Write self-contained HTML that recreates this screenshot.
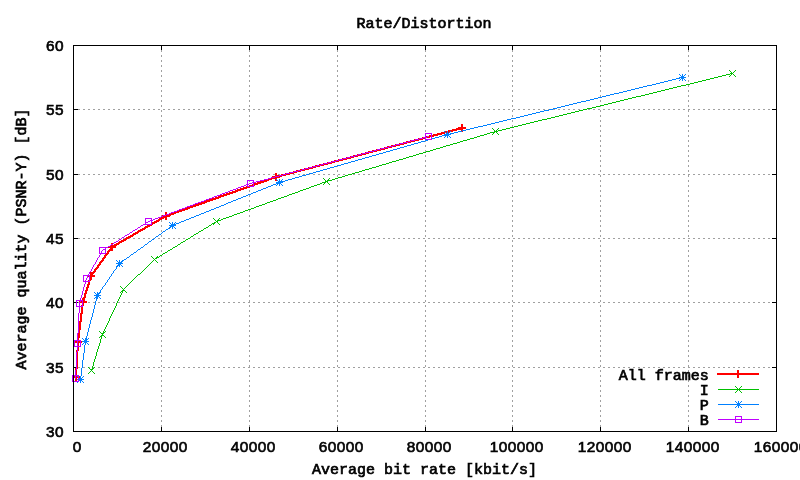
<!DOCTYPE html>
<html><head><meta charset="utf-8"><title>Rate/Distortion</title>
<style>html,body{margin:0;padding:0;background:#fff;overflow:hidden}svg{display:block}text{font-family:"Liberation Mono","DejaVu Sans Mono",monospace;font-size:15px;font-weight:normal;fill:#000;stroke:#000;stroke-width:0.7px}</style>
</head><body>
<svg width="800" height="480" viewBox="0 0 800 480">
<rect width="800" height="480" fill="#ffffff"/>
<g stroke="#a0a0a0" stroke-width="1" stroke-dasharray="2 3" shape-rendering="crispEdges" fill="none">
<line x1="161.5" y1="45" x2="161.5" y2="431"/>
<line x1="249.5" y1="45" x2="249.5" y2="431"/>
<line x1="337.5" y1="45" x2="337.5" y2="431"/>
<line x1="425.5" y1="45" x2="425.5" y2="431"/>
<line x1="512.5" y1="45" x2="512.5" y2="431"/>
<line x1="600.5" y1="45" x2="600.5" y2="431"/>
<line x1="688.5" y1="45" x2="688.5" y2="431"/>
<line x1="73" y1="367.5" x2="776" y2="367.5"/>
<line x1="73" y1="302.5" x2="776" y2="302.5"/>
<line x1="73" y1="238.5" x2="776" y2="238.5"/>
<line x1="73" y1="174.5" x2="776" y2="174.5"/>
<line x1="73" y1="109.5" x2="776" y2="109.5"/>
</g>
<g stroke="#000" stroke-width="1" shape-rendering="crispEdges" fill="none">
<line x1="73.5" y1="427" x2="73.5" y2="432"/>
<line x1="73.5" y1="45" x2="73.5" y2="50"/>
<line x1="161.5" y1="427" x2="161.5" y2="432"/>
<line x1="161.5" y1="45" x2="161.5" y2="50"/>
<line x1="249.5" y1="427" x2="249.5" y2="432"/>
<line x1="249.5" y1="45" x2="249.5" y2="50"/>
<line x1="337.5" y1="427" x2="337.5" y2="432"/>
<line x1="337.5" y1="45" x2="337.5" y2="50"/>
<line x1="425.5" y1="427" x2="425.5" y2="432"/>
<line x1="425.5" y1="45" x2="425.5" y2="50"/>
<line x1="512.5" y1="427" x2="512.5" y2="432"/>
<line x1="512.5" y1="45" x2="512.5" y2="50"/>
<line x1="600.5" y1="427" x2="600.5" y2="432"/>
<line x1="600.5" y1="45" x2="600.5" y2="50"/>
<line x1="688.5" y1="427" x2="688.5" y2="432"/>
<line x1="688.5" y1="45" x2="688.5" y2="50"/>
<line x1="776.5" y1="427" x2="776.5" y2="432"/>
<line x1="776.5" y1="45" x2="776.5" y2="50"/>
<line x1="73" y1="431.5" x2="78" y2="431.5"/>
<line x1="772" y1="431.5" x2="777" y2="431.5"/>
<line x1="73" y1="367.5" x2="78" y2="367.5"/>
<line x1="772" y1="367.5" x2="777" y2="367.5"/>
<line x1="73" y1="302.5" x2="78" y2="302.5"/>
<line x1="772" y1="302.5" x2="777" y2="302.5"/>
<line x1="73" y1="238.5" x2="78" y2="238.5"/>
<line x1="772" y1="238.5" x2="777" y2="238.5"/>
<line x1="73" y1="174.5" x2="78" y2="174.5"/>
<line x1="772" y1="174.5" x2="777" y2="174.5"/>
<line x1="73" y1="109.5" x2="78" y2="109.5"/>
<line x1="772" y1="109.5" x2="777" y2="109.5"/>
<line x1="73" y1="45.5" x2="78" y2="45.5"/>
<line x1="772" y1="45.5" x2="777" y2="45.5"/>
</g>
<g shape-rendering="crispEdges" stroke="none">
<path fill="#ff0000" d="M461 124h2v1h-2zM461 125h2v1h-2zM461 126h2v1h-2zM458 127h8v1h-8zM456 128h10v1h-10zM452 129h11v1h-11zM448 130h9v1h-9zM461 130h2v1h-2zM444 131h9v1h-9zM461 131h2v1h-2zM441 132h8v1h-8zM437 133h8v1h-8zM433 134h9v1h-9zM429 135h9v1h-9zM425 136h9v1h-9zM422 137h8v1h-8zM418 138h8v1h-8zM414 139h9v1h-9zM410 140h9v1h-9zM406 141h9v1h-9zM403 142h8v1h-8zM399 143h8v1h-8zM395 144h9v1h-9zM391 145h9v1h-9zM387 146h9v1h-9zM384 147h8v1h-8zM380 148h8v1h-8zM376 149h9v1h-9zM372 150h9v1h-9zM368 151h9v1h-9zM365 152h8v1h-8zM361 153h8v1h-8zM357 154h9v1h-9zM353 155h9v1h-9zM350 156h8v1h-8zM346 157h8v1h-8zM342 158h9v1h-9zM338 159h9v1h-9zM334 160h9v1h-9zM331 161h8v1h-8zM327 162h8v1h-8zM323 163h9v1h-9zM319 164h9v1h-9zM315 165h9v1h-9zM312 166h8v1h-8zM308 167h8v1h-8zM304 168h9v1h-9zM300 169h9v1h-9zM296 170h9v1h-9zM293 171h8v1h-8zM289 172h8v1h-8zM275 173h2v1h-2zM285 173h9v1h-9zM275 174h2v1h-2zM281 174h9v1h-9zM275 175h11v1h-11zM272 176h10v1h-10zM271 177h9v1h-9zM268 178h9v1h-9zM266 179h6v1h-6zM275 179h2v1h-2zM263 180h6v1h-6zM275 180h2v1h-2zM260 181h7v1h-7zM257 182h7v1h-7zM254 183h7v1h-7zM252 184h6v1h-6zM249 185h6v1h-6zM246 186h7v1h-7zM243 187h7v1h-7zM240 188h7v1h-7zM237 189h7v1h-7zM235 190h6v1h-6zM232 191h6v1h-6zM229 192h7v1h-7zM226 193h7v1h-7zM223 194h7v1h-7zM220 195h7v1h-7zM218 196h6v1h-6zM215 197h6v1h-6zM212 198h7v1h-7zM209 199h7v1h-7zM206 200h7v1h-7zM204 201h6v1h-6zM201 202h6v1h-6zM198 203h7v1h-7zM195 204h7v1h-7zM192 205h7v1h-7zM189 206h7v1h-7zM187 207h6v1h-6zM184 208h6v1h-6zM181 209h7v1h-7zM178 210h7v1h-7zM175 211h7v1h-7zM165 212h2v1h-2zM173 212h6v1h-6zM165 213h2v1h-2zM170 213h6v1h-6zM165 214h9v1h-9zM162 215h9v1h-9zM162 216h8v1h-8zM161 217h6v1h-6zM159 218h5v1h-5zM165 218h2v1h-2zM158 219h4v1h-4zM165 219h2v1h-2zM156 220h4v1h-4zM154 221h5v1h-5zM152 222h5v1h-5zM151 223h4v1h-4zM149 224h4v1h-4zM147 225h5v1h-5zM145 226h5v1h-5zM144 227h4v1h-4zM142 228h4v1h-4zM140 229h5v1h-5zM138 230h5v1h-5zM137 231h4v1h-4zM135 232h4v1h-4zM133 233h5v1h-5zM132 234h4v1h-4zM130 235h4v1h-4zM128 236h5v1h-5zM126 237h5v1h-5zM125 238h4v1h-4zM123 239h4v1h-4zM121 240h5v1h-5zM119 241h5v1h-5zM118 242h4v1h-4zM111 243h2v1h-2zM116 243h4v1h-4zM111 244h2v1h-2zM114 244h5v1h-5zM111 245h6v1h-6zM108 246h8v1h-8zM108 247h8v1h-8zM110 248h3v1h-3zM109 249h4v1h-4zM108 250h5v1h-5zM107 251h3v1h-3zM107 252h2v1h-2zM106 253h3v1h-3zM105 254h3v1h-3zM104 255h3v1h-3zM104 256h2v1h-2zM103 257h3v1h-3zM102 258h3v1h-3zM102 259h2v1h-2zM101 260h3v1h-3zM100 261h3v1h-3zM99 262h3v1h-3zM99 263h2v1h-2zM98 264h3v1h-3zM97 265h3v1h-3zM97 266h2v1h-2zM96 267h3v1h-3zM95 268h3v1h-3zM94 269h3v1h-3zM94 270h2v1h-2zM93 271h3v1h-3zM90 272h5v1h-5zM90 273h4v1h-4zM90 274h3v1h-3zM87 275h8v1h-8zM87 276h8v1h-8zM89 277h3v1h-3zM89 278h3v1h-3zM89 279h3v1h-3zM88 280h3v1h-3zM88 281h2v1h-2zM88 282h2v1h-2zM88 283h2v1h-2zM87 284h3v1h-3zM87 285h2v1h-2zM87 286h2v1h-2zM86 287h3v1h-3zM86 288h2v1h-2zM86 289h2v1h-2zM85 290h3v1h-3zM85 291h2v1h-2zM85 292h2v1h-2zM84 293h3v1h-3zM84 294h2v1h-2zM84 295h2v1h-2zM84 296h2v1h-2zM83 297h3v1h-3zM82 298h3v1h-3zM82 299h3v1h-3zM82 300h3v1h-3zM79 301h8v1h-8zM79 302h8v1h-8zM82 303h2v1h-2zM82 304h2v1h-2zM81 305h3v1h-3zM81 306h2v1h-2zM81 307h2v1h-2zM81 308h2v1h-2zM81 309h2v1h-2zM81 310h2v1h-2zM81 311h2v1h-2zM81 312h2v1h-2zM80 313h3v1h-3zM80 314h2v1h-2zM80 315h2v1h-2zM80 316h2v1h-2zM80 317h2v1h-2zM80 318h2v1h-2zM80 319h2v1h-2zM80 320h2v1h-2zM79 321h3v1h-3zM79 322h2v1h-2zM79 323h2v1h-2zM79 324h2v1h-2zM79 325h2v1h-2zM79 326h2v1h-2zM79 327h2v1h-2zM79 328h2v1h-2zM78 329h3v1h-3zM78 330h2v1h-2zM78 331h2v1h-2zM78 332h2v1h-2zM78 333h2v1h-2zM78 334h2v1h-2zM78 335h2v1h-2zM78 336h2v1h-2zM77 337h3v1h-3zM77 338h2v1h-2zM77 339h2v1h-2zM77 340h2v1h-2zM74 341h8v1h-8zM74 342h8v1h-8zM77 343h2v1h-2zM77 344h2v1h-2zM77 345h2v1h-2zM77 346h2v1h-2zM77 347h2v1h-2zM77 348h2v1h-2zM77 349h2v1h-2zM76 350h3v1h-3zM76 351h2v1h-2zM76 352h2v1h-2zM76 353h2v1h-2zM76 354h2v1h-2zM76 355h2v1h-2zM76 356h2v1h-2zM76 357h2v1h-2zM76 358h2v1h-2zM76 359h2v1h-2zM76 360h2v1h-2zM76 361h2v1h-2zM76 362h2v1h-2zM76 363h2v1h-2zM76 364h2v1h-2zM76 365h2v1h-2zM76 366h2v1h-2zM76 367h2v1h-2zM75 368h3v1h-3zM75 369h2v1h-2zM75 370h2v1h-2zM737 370h2v1h-2zM75 371h2v1h-2zM737 371h2v1h-2zM75 372h2v1h-2zM737 372h2v1h-2zM75 373h2v1h-2zM717 373h42v1h-42zM75 374h2v1h-2zM717 374h42v1h-42zM75 375h2v1h-2zM737 375h2v1h-2zM72 376h8v1h-8zM737 376h2v1h-2zM72 377h8v1h-8zM737 377h2v1h-2zM75 378h2v1h-2zM75 379h2v1h-2zM75 380h2v1h-2z"/>
<path fill="#00c000" d="M730 73h3v1h-3zM726 74h4v1h-4zM722 75h4v1h-4zM718 76h4v1h-4zM714 77h4v1h-4zM710 78h4v1h-4zM706 79h4v1h-4zM702 80h4v1h-4zM698 81h4v1h-4zM694 82h4v1h-4zM690 83h4v1h-4zM686 84h4v1h-4zM681 85h5v1h-5zM677 86h4v1h-4zM673 87h4v1h-4zM669 88h4v1h-4zM665 89h4v1h-4zM661 90h4v1h-4zM657 91h4v1h-4zM653 92h4v1h-4zM649 93h4v1h-4zM645 94h4v1h-4zM641 95h4v1h-4zM636 96h5v1h-5zM632 97h4v1h-4zM628 98h4v1h-4zM624 99h4v1h-4zM620 100h4v1h-4zM616 101h4v1h-4zM612 102h4v1h-4zM608 103h4v1h-4zM604 104h4v1h-4zM600 105h4v1h-4zM596 106h4v1h-4zM592 107h4v1h-4zM587 108h5v1h-5zM583 109h4v1h-4zM579 110h4v1h-4zM575 111h4v1h-4zM571 112h4v1h-4zM567 113h4v1h-4zM563 114h4v1h-4zM559 115h4v1h-4zM555 116h4v1h-4zM551 117h4v1h-4zM547 118h4v1h-4zM542 119h5v1h-5zM538 120h4v1h-4zM534 121h4v1h-4zM530 122h4v1h-4zM526 123h4v1h-4zM522 124h4v1h-4zM518 125h4v1h-4zM514 126h4v1h-4zM510 127h4v1h-4zM506 128h4v1h-4zM502 129h4v1h-4zM498 130h4v1h-4zM494 131h4v1h-4zM490 132h5v1h-5zM487 133h3v1h-3zM484 134h3v1h-3zM480 135h4v1h-4zM477 136h3v1h-3zM474 137h3v1h-3zM470 138h4v1h-4zM467 139h3v1h-3zM463 140h4v1h-4zM460 141h3v1h-3zM457 142h3v1h-3zM453 143h4v1h-4zM450 144h3v1h-3zM446 145h4v1h-4zM443 146h3v1h-3zM440 147h3v1h-3zM436 148h4v1h-4zM433 149h3v1h-3zM430 150h3v1h-3zM426 151h4v1h-4zM423 152h3v1h-3zM419 153h4v1h-4zM416 154h3v1h-3zM413 155h3v1h-3zM409 156h4v1h-4zM406 157h3v1h-3zM403 158h3v1h-3zM399 159h4v1h-4zM396 160h3v1h-3zM392 161h4v1h-4zM389 162h3v1h-3zM386 163h3v1h-3zM382 164h4v1h-4zM379 165h3v1h-3zM376 166h3v1h-3zM372 167h4v1h-4zM369 168h3v1h-3zM365 169h4v1h-4zM362 170h3v1h-3zM359 171h3v1h-3zM355 172h4v1h-4zM352 173h3v1h-3zM348 174h4v1h-4zM345 175h3v1h-3zM342 176h3v1h-3zM338 177h4v1h-4zM335 178h3v1h-3zM332 179h3v1h-3zM327 180h5v1h-5zM325 181h3v1h-3zM322 182h4v1h-4zM320 183h2v1h-2zM317 184h3v1h-3zM314 185h3v1h-3zM311 186h3v1h-3zM309 187h2v1h-2zM306 188h3v1h-3zM303 189h3v1h-3zM300 190h3v1h-3zM298 191h2v1h-2zM295 192h3v1h-3zM292 193h3v1h-3zM289 194h3v1h-3zM287 195h2v1h-2zM284 196h3v1h-3zM281 197h3v1h-3zM278 198h3v1h-3zM276 199h2v1h-2zM273 200h3v1h-3zM270 201h3v1h-3zM267 202h3v1h-3zM265 203h2v1h-2zM262 204h3v1h-3zM259 205h3v1h-3zM256 206h3v1h-3zM254 207h2v1h-2zM251 208h3v1h-3zM248 209h3v1h-3zM245 210h3v1h-3zM243 211h2v1h-2zM240 212h3v1h-3zM237 213h3v1h-3zM234 214h3v1h-3zM232 215h2v1h-2zM229 216h3v1h-3zM226 217h3v1h-3zM223 218h3v1h-3zM221 219h2v1h-2zM217 220h4v1h-4zM216 221h2v1h-2zM214 222h2v1h-2zM212 223h3v1h-3zM209 225h2v1h-2zM206 227h2v1h-2zM204 228h2v1h-2zM201 230h2v1h-2zM199 231h2v1h-2zM196 233h2v1h-2zM194 234h2v1h-2zM191 236h2v1h-2zM188 238h2v1h-2zM186 239h2v1h-2zM183 241h2v1h-2zM181 242h2v1h-2zM178 244h2v1h-2zM175 246h2v1h-2zM173 247h2v1h-2zM170 249h2v1h-2zM168 250h2v1h-2zM165 252h2v1h-2zM163 253h2v1h-2zM160 255h2v1h-2zM156 257h3v1h-3zM155 258h2v1h-2zM138 274h2v1h-2zM122 290h3v1h-3zM121 291h2v1h-2zM103 332h2v1h-2zM101 333h3v1h-3zM101 335h3v1h-3zM100 336h2v1h-2zM92 368h2v1h-2zM90 369h3v1h-3zM718 389h41v1h-41zM88 367h1v1h-1zM88 373h1v1h-1zM89 368h1v1h-1zM89 372h1v1h-1zM90 371h1v1h-1zM91 370h1v1h-1zM92 366h1v2h-1zM92 371h1v1h-1zM93 362h1v4h-1zM93 372h1v1h-1zM94 359h1v3h-1zM94 367h1v1h-1zM94 373h1v1h-1zM95 356h1v3h-1zM96 352h1v4h-1zM97 349h1v3h-1zM98 346h1v3h-1zM99 331h1v1h-1zM99 337h1v1h-1zM99 343h1v3h-1zM100 332h1v1h-1zM100 339h1v4h-1zM101 337h1v2h-1zM102 334h1v1h-1zM103 331h1v1h-1zM104 329h1v2h-1zM104 336h1v1h-1zM105 327h1v2h-1zM105 331h1v1h-1zM105 337h1v1h-1zM106 325h1v2h-1zM107 323h1v2h-1zM108 321h1v2h-1zM109 318h1v3h-1zM110 316h1v2h-1zM111 314h1v2h-1zM112 312h1v2h-1zM113 310h1v2h-1zM114 308h1v2h-1zM115 306h1v2h-1zM116 303h1v3h-1zM117 301h1v2h-1zM118 299h1v2h-1zM119 297h1v2h-1zM120 286h1v1h-1zM120 292h1v1h-1zM120 295h1v2h-1zM121 287h1v1h-1zM121 293h1v2h-1zM122 288h1v1h-1zM122 292h1v1h-1zM123 289h1v1h-1zM124 288h1v1h-1zM125 287h1v1h-1zM125 291h1v1h-1zM126 286h1v1h-1zM126 292h1v1h-1zM127 285h1v1h-1zM128 284h1v1h-1zM129 283h1v1h-1zM130 282h1v1h-1zM131 281h1v1h-1zM132 280h1v1h-1zM133 279h1v1h-1zM134 278h1v1h-1zM135 277h1v1h-1zM136 276h1v1h-1zM137 275h1v1h-1zM140 273h1v1h-1zM141 272h1v1h-1zM142 271h1v1h-1zM143 270h1v1h-1zM144 269h1v1h-1zM145 268h1v1h-1zM146 267h1v1h-1zM147 266h1v1h-1zM148 265h1v1h-1zM149 264h1v1h-1zM150 263h1v1h-1zM151 256h1v1h-1zM151 262h1v1h-1zM152 257h1v1h-1zM152 261h1v1h-1zM153 258h1v1h-1zM153 260h1v1h-1zM154 259h1v1h-1zM155 260h1v1h-1zM156 261h1v1h-1zM157 256h1v1h-1zM157 262h1v1h-1zM159 256h1v1h-1zM162 254h1v1h-1zM167 251h1v1h-1zM172 248h1v1h-1zM177 245h1v1h-1zM180 243h1v1h-1zM185 240h1v1h-1zM190 237h1v1h-1zM193 235h1v1h-1zM198 232h1v1h-1zM203 229h1v1h-1zM208 226h1v1h-1zM211 224h1v1h-1zM213 218h1v1h-1zM213 224h1v1h-1zM214 219h1v1h-1zM215 220h1v1h-1zM217 222h1v1h-1zM218 219h1v1h-1zM218 223h1v1h-1zM219 218h1v1h-1zM219 224h1v1h-1zM323 178h1v1h-1zM323 184h1v1h-1zM324 179h1v1h-1zM324 183h1v1h-1zM325 180h1v1h-1zM327 182h1v1h-1zM328 179h1v1h-1zM328 183h1v1h-1zM329 178h1v1h-1zM329 184h1v1h-1zM492 128h1v1h-1zM492 134h1v1h-1zM493 129h1v1h-1zM493 133h1v1h-1zM494 130h1v1h-1zM496 130h1v1h-1zM496 132h1v1h-1zM497 129h1v1h-1zM497 133h1v1h-1zM498 128h1v1h-1zM498 134h1v1h-1zM729 70h1v1h-1zM729 76h1v1h-1zM730 71h1v1h-1zM730 75h1v1h-1zM731 72h1v1h-1zM731 74h1v1h-1zM733 72h1v1h-1zM733 74h1v1h-1zM734 71h1v1h-1zM734 75h1v1h-1zM735 70h1v1h-1zM735 76h1v1h-1zM735 386h1v1h-1zM735 392h1v1h-1zM736 387h1v1h-1zM736 391h1v1h-1zM737 388h1v1h-1zM737 390h1v1h-1zM739 388h1v1h-1zM739 390h1v1h-1zM740 387h1v1h-1zM740 391h1v1h-1zM741 386h1v1h-1zM741 392h1v1h-1z"/>
<path fill="#0080ff" d="M681 76h3v1h-3zM679 77h7v1h-7zM676 78h4v1h-4zM681 78h3v1h-3zM672 79h4v1h-4zM668 80h4v1h-4zM664 81h4v1h-4zM660 82h4v1h-4zM656 83h4v1h-4zM652 84h4v1h-4zM647 85h5v1h-5zM643 86h4v1h-4zM639 87h4v1h-4zM635 88h4v1h-4zM631 89h4v1h-4zM627 90h4v1h-4zM623 91h4v1h-4zM619 92h4v1h-4zM614 93h5v1h-5zM610 94h4v1h-4zM606 95h4v1h-4zM602 96h4v1h-4zM598 97h4v1h-4zM594 98h4v1h-4zM590 99h4v1h-4zM586 100h4v1h-4zM581 101h5v1h-5zM577 102h4v1h-4zM573 103h4v1h-4zM569 104h4v1h-4zM565 105h4v1h-4zM561 106h4v1h-4zM557 107h4v1h-4zM553 108h4v1h-4zM549 109h4v1h-4zM544 110h5v1h-5zM540 111h4v1h-4zM536 112h4v1h-4zM532 113h4v1h-4zM528 114h4v1h-4zM524 115h4v1h-4zM520 116h4v1h-4zM516 117h4v1h-4zM511 118h5v1h-5zM507 119h4v1h-4zM503 120h4v1h-4zM499 121h4v1h-4zM495 122h4v1h-4zM491 123h4v1h-4zM487 124h4v1h-4zM483 125h4v1h-4zM478 126h5v1h-5zM474 127h4v1h-4zM470 128h4v1h-4zM466 129h4v1h-4zM462 130h4v1h-4zM458 131h4v1h-4zM454 132h4v1h-4zM446 133h3v1h-3zM450 133h4v1h-4zM444 134h7v1h-7zM442 135h7v1h-7zM439 136h3v1h-3zM435 137h4v1h-4zM432 138h3v1h-3zM428 139h4v1h-4zM425 140h3v1h-3zM421 141h4v1h-4zM418 142h3v1h-3zM414 143h4v1h-4zM411 144h3v1h-3zM407 145h4v1h-4zM404 146h3v1h-3zM400 147h4v1h-4zM397 148h3v1h-3zM393 149h4v1h-4zM390 150h3v1h-3zM386 151h4v1h-4zM383 152h3v1h-3zM379 153h4v1h-4zM376 154h3v1h-3zM372 155h4v1h-4zM369 156h3v1h-3zM365 157h4v1h-4zM362 158h3v1h-3zM358 159h4v1h-4zM355 160h3v1h-3zM351 161h4v1h-4zM348 162h3v1h-3zM344 163h4v1h-4zM341 164h3v1h-3zM337 165h4v1h-4zM334 166h3v1h-3zM330 167h4v1h-4zM327 168h3v1h-3zM323 169h4v1h-4zM320 170h3v1h-3zM316 171h4v1h-4zM313 172h3v1h-3zM309 173h4v1h-4zM306 174h3v1h-3zM302 175h4v1h-4zM299 176h3v1h-3zM295 177h4v1h-4zM292 178h3v1h-3zM288 179h4v1h-4zM285 180h3v1h-3zM278 181h7v1h-7zM276 182h7v1h-7zM276 183h5v1h-5zM273 184h3v1h-3zM271 185h2v1h-2zM268 186h3v1h-3zM266 187h2v1h-2zM263 188h3v1h-3zM261 189h2v1h-2zM258 190h3v1h-3zM256 191h2v1h-2zM253 192h3v1h-3zM251 193h2v1h-2zM248 194h3v1h-3zM246 195h2v1h-2zM243 196h3v1h-3zM241 197h2v1h-2zM238 198h3v1h-3zM236 199h2v1h-2zM233 200h3v1h-3zM231 201h2v1h-2zM228 202h3v1h-3zM226 203h2v1h-2zM224 204h2v1h-2zM221 205h3v1h-3zM219 206h2v1h-2zM216 207h3v1h-3zM214 208h2v1h-2zM211 209h3v1h-3zM209 210h2v1h-2zM206 211h3v1h-3zM204 212h2v1h-2zM201 213h3v1h-3zM199 214h2v1h-2zM196 215h3v1h-3zM194 216h2v1h-2zM191 217h3v1h-3zM189 218h2v1h-2zM186 219h3v1h-3zM184 220h2v1h-2zM181 221h3v1h-3zM179 222h2v1h-2zM176 223h3v1h-3zM171 224h5v1h-5zM169 225h7v1h-7zM170 226h4v1h-4zM169 227h2v1h-2zM168 228h2v1h-2zM166 229h2v1h-2zM163 231h2v1h-2zM159 234h2v1h-2zM156 236h2v1h-2zM152 239h2v1h-2zM149 241h2v1h-2zM145 244h2v1h-2zM141 247h2v1h-2zM138 249h2v1h-2zM134 252h2v1h-2zM131 254h2v1h-2zM127 257h2v1h-2zM124 259h2v1h-2zM122 260h2v1h-2zM121 261h2v1h-2zM118 262h4v1h-4zM116 263h7v1h-7zM118 264h3v1h-3zM117 265h3v1h-3zM116 266h2v1h-2zM99 292h2v1h-2zM97 293h3v1h-3zM96 294h3v1h-3zM94 295h7v1h-7zM96 296h3v1h-3zM95 297h3v1h-3zM96 298h2v1h-2zM85 338h2v1h-2zM85 339h3v1h-3zM84 340h3v1h-3zM82 341h7v1h-7zM84 342h3v1h-3zM79 378h3v1h-3zM77 379h7v1h-7zM79 380h3v1h-3zM737 403h3v1h-3zM718 404h41v1h-41zM737 405h3v1h-3zM77 376h1v1h-1zM77 382h1v1h-1zM78 377h1v1h-1zM78 381h1v1h-1zM80 376h1v2h-1zM80 381h1v2h-1zM81 368h1v8h-1zM82 338h1v1h-1zM82 344h1v1h-1zM82 360h1v8h-1zM82 377h1v1h-1zM82 381h1v1h-1zM83 339h1v1h-1zM83 343h1v1h-1zM83 353h1v7h-1zM83 376h1v1h-1zM83 382h1v1h-1zM84 345h1v8h-1zM85 343h1v2h-1zM86 336h1v2h-1zM87 332h1v4h-1zM87 343h1v1h-1zM88 328h1v4h-1zM88 338h1v1h-1zM88 344h1v1h-1zM89 324h1v4h-1zM90 320h1v4h-1zM91 317h1v3h-1zM92 313h1v4h-1zM93 309h1v4h-1zM94 292h1v1h-1zM94 298h1v1h-1zM94 305h1v4h-1zM95 293h1v1h-1zM95 301h1v4h-1zM96 299h1v2h-1zM97 292h1v1h-1zM99 297h1v1h-1zM100 290h1v2h-1zM100 298h1v1h-1zM101 289h1v1h-1zM102 287h1v2h-1zM103 286h1v1h-1zM104 285h1v1h-1zM105 283h1v2h-1zM106 282h1v1h-1zM107 280h1v2h-1zM108 279h1v1h-1zM109 277h1v2h-1zM110 276h1v1h-1zM111 274h1v2h-1zM112 273h1v1h-1zM113 271h1v2h-1zM114 270h1v1h-1zM115 269h1v1h-1zM116 260h1v1h-1zM116 267h1v2h-1zM117 261h1v1h-1zM119 260h1v2h-1zM119 266h1v1h-1zM121 265h1v1h-1zM122 266h1v1h-1zM126 258h1v1h-1zM129 256h1v1h-1zM130 255h1v1h-1zM133 253h1v1h-1zM136 251h1v1h-1zM137 250h1v1h-1zM140 248h1v1h-1zM143 246h1v1h-1zM144 245h1v1h-1zM147 243h1v1h-1zM148 242h1v1h-1zM151 240h1v1h-1zM154 238h1v1h-1zM155 237h1v1h-1zM158 235h1v1h-1zM161 233h1v1h-1zM162 232h1v1h-1zM165 230h1v1h-1zM169 222h1v1h-1zM170 223h1v1h-1zM172 222h1v2h-1zM172 227h1v2h-1zM174 223h1v1h-1zM174 227h1v1h-1zM175 222h1v1h-1zM175 228h1v1h-1zM276 179h1v1h-1zM276 185h1v1h-1zM277 180h1v1h-1zM277 184h1v1h-1zM279 179h1v2h-1zM279 184h1v2h-1zM281 180h1v1h-1zM281 184h1v1h-1zM282 179h1v1h-1zM282 185h1v1h-1zM444 131h1v1h-1zM444 137h1v1h-1zM445 132h1v1h-1zM445 136h1v1h-1zM447 131h1v2h-1zM447 136h1v2h-1zM449 132h1v1h-1zM449 136h1v1h-1zM450 131h1v1h-1zM450 137h1v1h-1zM679 74h1v1h-1zM679 80h1v1h-1zM680 75h1v1h-1zM680 79h1v1h-1zM682 74h1v2h-1zM682 79h1v2h-1zM684 75h1v1h-1zM684 79h1v1h-1zM685 74h1v1h-1zM685 80h1v1h-1zM735 401h1v1h-1zM735 407h1v1h-1zM736 402h1v1h-1zM736 406h1v1h-1zM738 401h1v2h-1zM738 406h1v2h-1zM740 402h1v1h-1zM740 406h1v1h-1zM741 401h1v1h-1zM741 407h1v1h-1z"/>
<path fill="#c000ff" d="M425 133h7v1h-7zM427 136h2v1h-2zM423 137h4v1h-4zM419 138h4v1h-4zM415 139h4v1h-4zM425 139h7v1h-7zM411 140h4v1h-4zM408 141h3v1h-3zM404 142h4v1h-4zM400 143h4v1h-4zM396 144h4v1h-4zM393 145h3v1h-3zM389 146h4v1h-4zM385 147h4v1h-4zM381 148h4v1h-4zM377 149h4v1h-4zM374 150h3v1h-3zM370 151h4v1h-4zM366 152h4v1h-4zM362 153h4v1h-4zM358 154h4v1h-4zM355 155h3v1h-3zM351 156h4v1h-4zM347 157h4v1h-4zM343 158h4v1h-4zM339 159h4v1h-4zM336 160h3v1h-3zM332 161h4v1h-4zM328 162h4v1h-4zM324 163h4v1h-4zM321 164h3v1h-3zM317 165h4v1h-4zM313 166h4v1h-4zM309 167h4v1h-4zM305 168h4v1h-4zM302 169h3v1h-3zM298 170h4v1h-4zM294 171h4v1h-4zM290 172h4v1h-4zM286 173h4v1h-4zM283 174h3v1h-3zM279 175h4v1h-4zM275 176h4v1h-4zM271 177h4v1h-4zM268 178h3v1h-3zM264 179h4v1h-4zM247 180h7v1h-7zM260 180h4v1h-4zM256 181h4v1h-4zM252 182h4v1h-4zM249 183h3v1h-3zM246 184h3v1h-3zM244 185h2v1h-2zM241 186h3v1h-3zM247 186h7v1h-7zM238 187h3v1h-3zM236 188h2v1h-2zM233 189h3v1h-3zM230 190h3v1h-3zM228 191h2v1h-2zM225 192h3v1h-3zM222 193h3v1h-3zM220 194h2v1h-2zM217 195h3v1h-3zM214 196h3v1h-3zM212 197h2v1h-2zM209 198h3v1h-3zM206 199h3v1h-3zM204 200h2v1h-2zM201 201h3v1h-3zM198 202h3v1h-3zM195 203h3v1h-3zM193 204h2v1h-2zM190 205h3v1h-3zM187 206h3v1h-3zM185 207h2v1h-2zM182 208h3v1h-3zM179 209h3v1h-3zM177 210h2v1h-2zM174 211h3v1h-3zM171 212h3v1h-3zM169 213h2v1h-2zM166 214h3v1h-3zM163 215h3v1h-3zM161 216h2v1h-2zM158 217h3v1h-3zM145 218h7v1h-7zM155 218h3v1h-3zM153 219h2v1h-2zM150 220h3v1h-3zM148 221h2v1h-2zM145 222h3v1h-3zM143 224h9v1h-9zM141 225h2v1h-2zM138 227h2v1h-2zM135 229h2v1h-2zM133 230h2v1h-2zM130 232h2v1h-2zM127 234h2v1h-2zM125 235h2v1h-2zM122 237h2v1h-2zM119 239h2v1h-2zM116 241h2v1h-2zM114 242h2v1h-2zM111 244h2v1h-2zM108 246h2v1h-2zM99 247h9v1h-9zM103 249h3v1h-3zM99 253h7v1h-7zM83 275h7v1h-7zM83 281h7v1h-7zM76 300h7v1h-7zM76 306h7v1h-7zM74 340h7v1h-7zM74 346h7v1h-7zM72 375h7v1h-7zM72 381h7v1h-7zM735 416h7v1h-7zM718 419h41v1h-41zM735 422h7v1h-7zM72 376h1v5h-1zM74 341h1v5h-1zM75 370h1v5h-1zM75 376h1v3h-1zM76 301h1v5h-1zM76 352h1v18h-1zM77 333h1v7h-1zM77 341h1v5h-1zM77 347h1v5h-1zM78 313h1v20h-1zM78 376h1v5h-1zM79 302h1v4h-1zM79 307h1v6h-1zM80 298h1v2h-1zM80 301h1v1h-1zM80 341h1v5h-1zM81 295h1v3h-1zM82 291h1v4h-1zM82 301h1v5h-1zM83 276h1v5h-1zM83 287h1v4h-1zM84 284h1v3h-1zM85 280h1v1h-1zM85 282h1v2h-1zM86 278h1v2h-1zM87 276h1v2h-1zM88 274h1v1h-1zM89 272h1v2h-1zM89 276h1v5h-1zM90 271h1v1h-1zM91 269h1v2h-1zM92 267h1v2h-1zM93 265h1v2h-1zM94 264h1v1h-1zM95 262h1v2h-1zM96 260h1v2h-1zM97 258h1v2h-1zM98 257h1v1h-1zM99 248h1v5h-1zM99 255h1v2h-1zM100 254h1v1h-1zM101 251h1v2h-1zM102 250h1v1h-1zM105 248h1v1h-1zM105 250h1v3h-1zM110 245h1v1h-1zM113 243h1v1h-1zM118 240h1v1h-1zM121 238h1v1h-1zM124 236h1v1h-1zM129 233h1v1h-1zM132 231h1v1h-1zM137 228h1v1h-1zM140 226h1v1h-1zM145 219h1v3h-1zM145 223h1v1h-1zM151 219h1v1h-1zM151 221h1v3h-1zM247 181h1v3h-1zM247 185h1v1h-1zM253 181h1v1h-1zM253 183h1v3h-1zM425 134h1v3h-1zM425 138h1v1h-1zM431 134h1v5h-1zM735 417h1v2h-1zM735 420h1v2h-1zM741 417h1v2h-1zM741 420h1v2h-1z"/>
</g>
<rect x="73.5" y="45.5" width="703" height="386" fill="none" stroke="#000" stroke-width="1" shape-rendering="crispEdges"/>
<g id="labels" opacity="0.999">
<text x="708.7" y="379.5" text-anchor="end">All frames</text>
<text x="708.7" y="395" text-anchor="end">I</text>
<text x="708.7" y="410" text-anchor="end">P</text>
<text x="708.7" y="425" text-anchor="end">B</text>
<text x="77.2" y="452" text-anchor="middle" transform="translate(77.2 0) scale(1.1 1) translate(-77.2 0)" style="font-family:'Liberation Sans','DejaVu Sans',sans-serif;font-size:14px;letter-spacing:0.39px;stroke-width:0.6px">0</text>
<text x="165.2" y="452" text-anchor="middle" transform="translate(165.2 0) scale(1.1 1) translate(-165.2 0)" style="font-family:'Liberation Sans','DejaVu Sans',sans-serif;font-size:14px;letter-spacing:0.39px;stroke-width:0.6px">20000</text>
<text x="253.2" y="452" text-anchor="middle" transform="translate(253.2 0) scale(1.1 1) translate(-253.2 0)" style="font-family:'Liberation Sans','DejaVu Sans',sans-serif;font-size:14px;letter-spacing:0.39px;stroke-width:0.6px">40000</text>
<text x="341.2" y="452" text-anchor="middle" transform="translate(341.2 0) scale(1.1 1) translate(-341.2 0)" style="font-family:'Liberation Sans','DejaVu Sans',sans-serif;font-size:14px;letter-spacing:0.39px;stroke-width:0.6px">60000</text>
<text x="429.2" y="452" text-anchor="middle" transform="translate(429.2 0) scale(1.1 1) translate(-429.2 0)" style="font-family:'Liberation Sans','DejaVu Sans',sans-serif;font-size:14px;letter-spacing:0.39px;stroke-width:0.6px">80000</text>
<text x="516.7" y="452" text-anchor="middle" transform="translate(516.7 0) scale(1.1 1) translate(-516.7 0)" style="font-family:'Liberation Sans','DejaVu Sans',sans-serif;font-size:14px;letter-spacing:0.39px;stroke-width:0.6px">100000</text>
<text x="604.7" y="452" text-anchor="middle" transform="translate(604.7 0) scale(1.1 1) translate(-604.7 0)" style="font-family:'Liberation Sans','DejaVu Sans',sans-serif;font-size:14px;letter-spacing:0.39px;stroke-width:0.6px">120000</text>
<text x="692.7" y="452" text-anchor="middle" transform="translate(692.7 0) scale(1.1 1) translate(-692.7 0)" style="font-family:'Liberation Sans','DejaVu Sans',sans-serif;font-size:14px;letter-spacing:0.39px;stroke-width:0.6px">140000</text>
<text x="780.7" y="452" text-anchor="middle" transform="translate(780.7 0) scale(1.1 1) translate(-780.7 0)" style="font-family:'Liberation Sans','DejaVu Sans',sans-serif;font-size:14px;letter-spacing:0.39px;stroke-width:0.6px">160000</text>
<text x="63.9" y="437.0" text-anchor="end" transform="translate(63.9 0) scale(1.1 1) translate(-63.9 0)" style="font-family:'Liberation Sans','DejaVu Sans',sans-serif;font-size:14px;letter-spacing:0.39px;stroke-width:0.6px">30</text>
<text x="63.9" y="373.0" text-anchor="end" transform="translate(63.9 0) scale(1.1 1) translate(-63.9 0)" style="font-family:'Liberation Sans','DejaVu Sans',sans-serif;font-size:14px;letter-spacing:0.39px;stroke-width:0.6px">35</text>
<text x="63.9" y="308.0" text-anchor="end" transform="translate(63.9 0) scale(1.1 1) translate(-63.9 0)" style="font-family:'Liberation Sans','DejaVu Sans',sans-serif;font-size:14px;letter-spacing:0.39px;stroke-width:0.6px">40</text>
<text x="63.9" y="244.0" text-anchor="end" transform="translate(63.9 0) scale(1.1 1) translate(-63.9 0)" style="font-family:'Liberation Sans','DejaVu Sans',sans-serif;font-size:14px;letter-spacing:0.39px;stroke-width:0.6px">45</text>
<text x="63.9" y="180.0" text-anchor="end" transform="translate(63.9 0) scale(1.1 1) translate(-63.9 0)" style="font-family:'Liberation Sans','DejaVu Sans',sans-serif;font-size:14px;letter-spacing:0.39px;stroke-width:0.6px">50</text>
<text x="63.9" y="115.0" text-anchor="end" transform="translate(63.9 0) scale(1.1 1) translate(-63.9 0)" style="font-family:'Liberation Sans','DejaVu Sans',sans-serif;font-size:14px;letter-spacing:0.39px;stroke-width:0.6px">55</text>
<text x="63.9" y="51.0" text-anchor="end" transform="translate(63.9 0) scale(1.1 1) translate(-63.9 0)" style="font-family:'Liberation Sans','DejaVu Sans',sans-serif;font-size:14px;letter-spacing:0.39px;stroke-width:0.6px">60</text>
<text x="424.1" y="28" text-anchor="middle">Rate/Distortion</text>
<text x="424.5" y="474" text-anchor="middle">Average bit rate [kbit/s]</text>
<text transform="translate(26,239) rotate(-90)" text-anchor="middle">Average quality (PSNR-Y) [dB]</text>
</g>
</svg></body></html>
